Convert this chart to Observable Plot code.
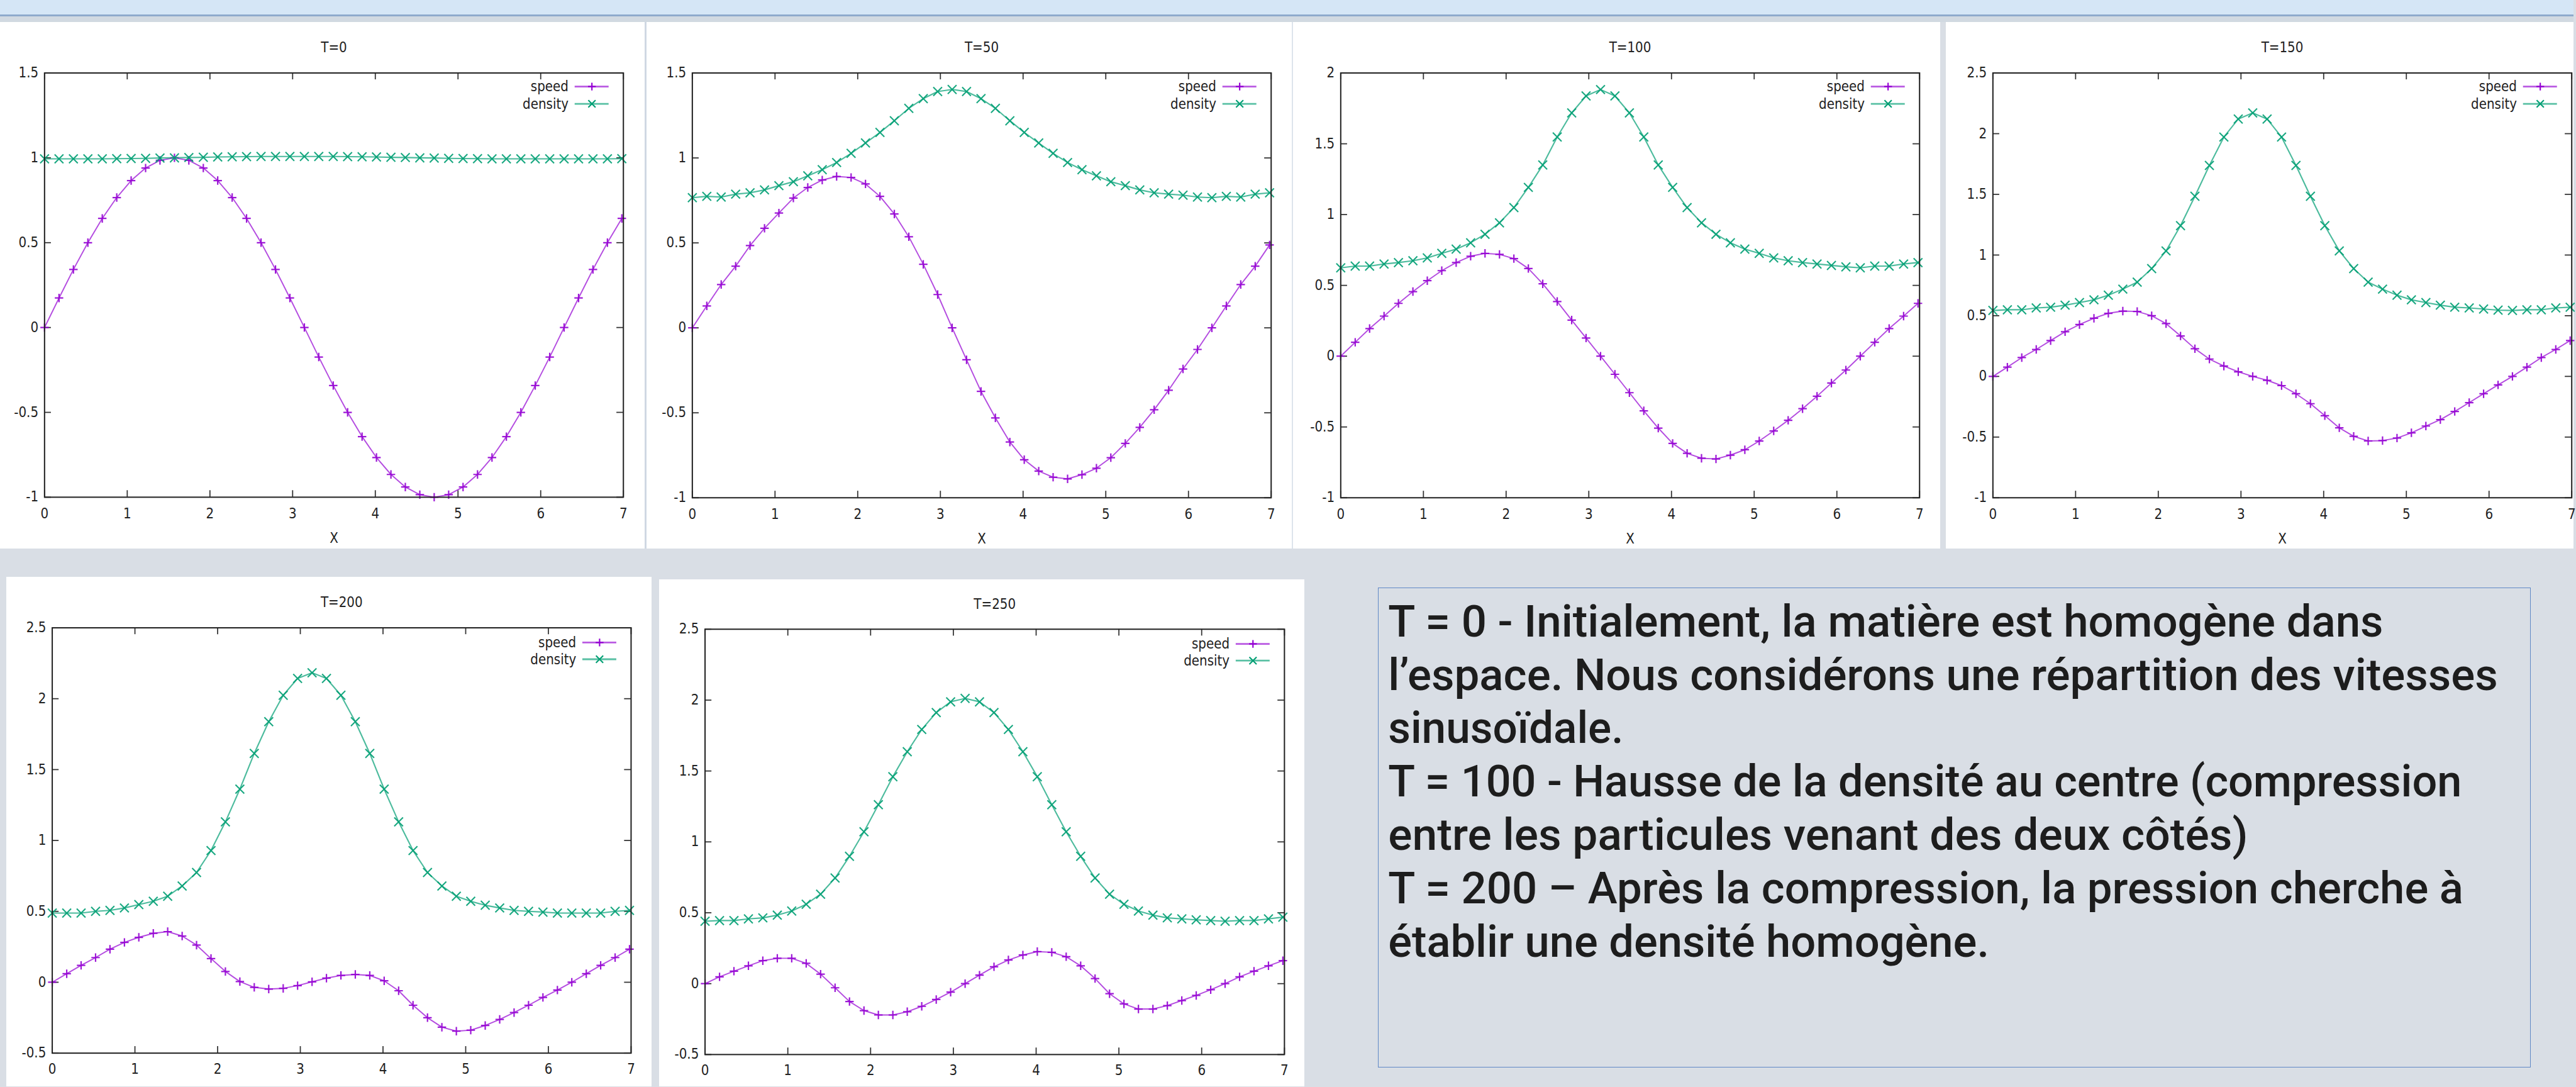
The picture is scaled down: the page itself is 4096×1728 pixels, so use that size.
<!DOCTYPE html>
<html><head><meta charset="utf-8">
<script src="https://cdn.jsdelivr.net/npm/d3@7"></script>
<script src="https://cdn.jsdelivr.net/npm/@observablehq/plot@0.6"></script>
<style>
html,body{margin:0;padding:0;background:#d9dee5;}
#page{position:relative;width:4096px;height:1728px;overflow:hidden;background:#d9dee5;}
.abs{position:absolute;}
</style></head><body><div id="page"></div>
<script>
// ---------------- data ----------------
const xGrid = [0, 0.175, 0.349, 0.524, 0.698, 0.873, 1.047, 1.222, 1.396, 1.571, 1.745, 1.920, 2.094, 2.269, 2.443, 2.618, 2.793, 2.967, 3.142, 3.316, 3.491, 3.665, 3.840, 4.014, 4.189, 4.363, 4.538, 4.712, 4.887, 5.061, 5.236, 5.411, 5.585, 5.760, 5.934, 6.109, 6.283, 6.458, 6.632, 6.807, 6.981];
const seriesNames = ["speed", "density"];
const titles = ["T=0", "T=50", "T=100", "T=150", "T=200", "T=250"];
const xTicks = [0, 1, 2, 3, 4, 5, 6, 7];
const xLabel = "X";
const yTicksA = [-1, -0.5, 0, 0.5, 1, 1.5];
const yTicksB = [-1, -0.5, 0, 0.5, 1, 1.5, 2];
const yTicksC = [-1, -0.5, 0, 0.5, 1, 1.5, 2, 2.5];
const yTicksD = [-0.5, 0, 0.5, 1, 1.5, 2, 2.5];

const speedT0 = [0, 0.174, 0.342, 0.5, 0.643, 0.766, 0.866, 0.94, 0.985, 1, 0.985, 0.94, 0.866, 0.766, 0.643, 0.5, 0.342, 0.174, 0, -0.174, -0.342, -0.5, -0.643, -0.766, -0.866, -0.94, -0.985, -1, -0.985, -0.94, -0.866, -0.766, -0.643, -0.5, -0.342, -0.174, 0, 0.174, 0.342, 0.5, 0.643];
const densityT0 = [0.994, 0.994, 0.994, 0.994, 0.994, 0.995, 0.996, 0.997, 0.999, 1.0, 1.002, 1.003, 1.005, 1.006, 1.007, 1.008, 1.008, 1.008, 1.008, 1.008, 1.008, 1.007, 1.006, 1.005, 1.003, 1.002, 1.0, 0.999, 0.997, 0.996, 0.995, 0.994, 0.994, 0.994, 0.994, 0.994, 0.994, 0.994, 0.994, 0.994, 0.995];
const speedT50 = [0, 0.129, 0.255, 0.363, 0.484, 0.586, 0.676, 0.764, 0.826, 0.870, 0.891, 0.885, 0.847, 0.774, 0.670, 0.536, 0.374, 0.196, 0, -0.188, -0.374, -0.530, -0.672, -0.776, -0.843, -0.879, -0.889, -0.864, -0.826, -0.764, -0.680, -0.586, -0.482, -0.367, -0.242, -0.127, 0, 0.129, 0.255, 0.363, 0.488];
const densityT50 = [0.766, 0.774, 0.770, 0.787, 0.795, 0.812, 0.837, 0.860, 0.895, 0.931, 0.973, 1.027, 1.088, 1.150, 1.219, 1.292, 1.349, 1.391, 1.403, 1.391, 1.349, 1.292, 1.219, 1.150, 1.088, 1.027, 0.973, 0.931, 0.895, 0.860, 0.837, 0.812, 0.795, 0.787, 0.781, 0.770, 0.766, 0.774, 0.770, 0.787, 0.795];
const speedT100 = [0, 0.098, 0.195, 0.283, 0.373, 0.456, 0.533, 0.604, 0.661, 0.706, 0.726, 0.719, 0.689, 0.619, 0.511, 0.386, 0.255, 0.128, 0, -0.128, -0.258, -0.386, -0.508, -0.616, -0.686, -0.721, -0.726, -0.699, -0.661, -0.599, -0.528, -0.453, -0.371, -0.283, -0.190, -0.098, 0, 0.098, 0.195, 0.283, 0.373];
const densityT100 = [0.624, 0.636, 0.636, 0.651, 0.661, 0.674, 0.694, 0.726, 0.756, 0.801, 0.861, 0.942, 1.049, 1.192, 1.350, 1.548, 1.718, 1.838, 1.883, 1.838, 1.718, 1.548, 1.350, 1.192, 1.049, 0.942, 0.861, 0.801, 0.756, 0.726, 0.694, 0.674, 0.661, 0.651, 0.641, 0.631, 0.624, 0.636, 0.636, 0.651, 0.661];
const speedT150 = [0, 0.076, 0.155, 0.222, 0.295, 0.368, 0.427, 0.479, 0.520, 0.538, 0.535, 0.500, 0.435, 0.333, 0.228, 0.143, 0.085, 0.038, 0, -0.032, -0.076, -0.143, -0.225, -0.324, -0.424, -0.494, -0.532, -0.529, -0.508, -0.465, -0.409, -0.356, -0.289, -0.216, -0.143, -0.070, 0, 0.076, 0.155, 0.222, 0.295];
const densityT150 = [0.543, 0.549, 0.549, 0.564, 0.570, 0.587, 0.608, 0.631, 0.669, 0.719, 0.777, 0.888, 1.034, 1.242, 1.484, 1.738, 1.972, 2.121, 2.171, 2.121, 1.972, 1.738, 1.484, 1.242, 1.034, 0.888, 0.777, 0.719, 0.669, 0.631, 0.608, 0.587, 0.570, 0.564, 0.555, 0.546, 0.543, 0.549, 0.549, 0.564, 0.570];
const speedT200 = [0, 0.060, 0.119, 0.174, 0.233, 0.281, 0.317, 0.345, 0.357, 0.326, 0.262, 0.167, 0.076, 0.005, -0.036, -0.048, -0.043, -0.024, 0.003, 0.029, 0.048, 0.055, 0.048, 0.010, -0.060, -0.162, -0.250, -0.317, -0.345, -0.338, -0.305, -0.262, -0.214, -0.162, -0.107, -0.055, 0, 0.060, 0.119, 0.174, 0.233];
const densityT200 = [0.488, 0.488, 0.488, 0.500, 0.507, 0.524, 0.548, 0.571, 0.607, 0.679, 0.774, 0.929, 1.131, 1.362, 1.614, 1.838, 2.024, 2.143, 2.183, 2.143, 2.024, 1.838, 1.614, 1.362, 1.131, 0.929, 0.774, 0.679, 0.607, 0.571, 0.543, 0.524, 0.507, 0.500, 0.495, 0.488, 0.488, 0.488, 0.488, 0.500, 0.507];
const speedT250 = [0, 0.048, 0.088, 0.126, 0.162, 0.179, 0.179, 0.143, 0.067, -0.029, -0.126, -0.190, -0.221, -0.221, -0.198, -0.160, -0.112, -0.060, 0, 0.060, 0.119, 0.167, 0.202, 0.226, 0.221, 0.190, 0.126, 0.036, -0.071, -0.143, -0.179, -0.179, -0.155, -0.119, -0.083, -0.043, 0, 0.048, 0.088, 0.126, 0.162];
const densityT250 = [0.440, 0.445, 0.445, 0.457, 0.464, 0.483, 0.512, 0.560, 0.631, 0.745, 0.898, 1.071, 1.262, 1.460, 1.636, 1.793, 1.912, 1.988, 2.012, 1.988, 1.912, 1.793, 1.636, 1.460, 1.262, 1.071, 0.898, 0.745, 0.631, 0.560, 0.512, 0.483, 0.464, 0.457, 0.450, 0.445, 0.440, 0.445, 0.445, 0.457, 0.469];

const noteLines = [
  "T = 0 - Initialement, la matière est homogène dans",
  "l’espace. Nous considérons une répartition des vitesses",
  "sinusoïdale.",
  "T = 100 - Hausse de la densité au centre (compression",
  "entre les particules venant des deux côtés)",
  "T = 200 – Après la compression, la pression cherche à",
  "établir une densité homogène."
];

// ---------------- layout / style (reference px, scaled by S) ----------------
const S = 0.885;
const SPEED_COLOR = "#9400d3";
const DENSITY_COLOR = "#009e73";
const PLOT_FONT = "'DejaVu Sans Condensed', 'Liberation Sans Narrow', 'DejaVu Sans', sans-serif";
const NOTE_FONT = "Roboto, 'Open Sans', sans-serif";

const page = document.getElementById("page");
function box(l, t, w, h, bg, extra) {
  const d = document.createElement("div");
  d.className = "abs";
  Object.assign(d.style, {left: l*S+"px", top: t*S+"px", width: w*S+"px", height: h*S+"px", background: bg}, extra || {});
  page.appendChild(d);
  return d;
}
// header band
box(0, 0, 4624, 26.5, "#d5e6f6");
box(0, 26.5, 4624, 2.5, "#8eaacc");
box(0, 29, 4624, 11, "#d1d9e1");
// top-row panel backgrounds
box(0, 40, 1158, 945, "#ffffff");
box(1158, 40, 4, 945, "#cfd8e3");
box(1162, 40, 1159, 945, "#ffffff");
box(2321, 40, 2.5, 945, "#dde4ec");
box(2323.5, 40, 1162.5, 945, "#ffffff");
box(3496, 40, 1128, 945, "#ffffff");
// bottom-row panel backgrounds
box(11, 1036, 1160, 915, "#ffffff");
box(1184, 1041, 1160, 910, "#ffffff");

const panels = [
  {title: titles[0], speed: speedT0,   density: densityT0,   yTicks: yTicksA, left: -4,   top: 40,   w: 1164, h: 945, ml: 84, mt: 91, pw: 1040, ph: 762, xlab: true},
  {title: titles[1], speed: speedT50,  density: densityT50,  yTicks: yTicksA, left: 1159, top: 40,   w: 1164, h: 945, ml: 84, mt: 91, pw: 1040, ph: 763, xlab: true},
  {title: titles[2], speed: speedT100, density: densityT100, yTicks: yTicksB, left: 2324, top: 40,   w: 1164, h: 945, ml: 84, mt: 91, pw: 1040, ph: 763, xlab: true},
  {title: titles[3], speed: speedT150, density: densityT150, yTicks: yTicksC, left: 3496, top: 40,   w: 1164, h: 945, ml: 84, mt: 91, pw: 1040, ph: 763, xlab: true},
  {title: titles[4], speed: speedT200, density: densityT200, yTicks: yTicksD, left: 11,   top: 1036, w: 1160, h: 945, ml: 82, mt: 91, pw: 1040, ph: 764, xlab: false},
  {title: titles[5], speed: speedT250, density: densityT250, yTicks: yTicksD, left: 1184, top: 1041, w: 1160, h: 945, ml: 82, mt: 89, pw: 1041, ph: 764, xlab: false}
];

const fmt = d => String(d);

function legendMark(rowY) {
  return (index, scales, values, dims) => {
    const g = d3.create("svg:g");
    const right = dims.width - dims.marginRight;
    const top = dims.marginTop;
    const cols = [SPEED_COLOR, DENSITY_COLOR];
    seriesNames.forEach((name, i) => {
      const cy = top + rowY[i]*S;
      g.append("text").attr("x", right - 98*S).attr("y", cy).attr("dy", "0.35em")
        .attr("text-anchor", "end").attr("fill", "#222").text(name);
      g.append("line").attr("x1", right - 87*S).attr("x2", right - 26*S)
        .attr("y1", cy).attr("y2", cy).attr("stroke", cols[i]).attr("stroke-opacity", 0.65)
        .attr("stroke-width", 3.2*S);
      const mx = right - 56*S;
      const a = i === 0 ? 7*S : 6.5*S;
      if (i === 0) {
        g.append("path").attr("d", `M${mx-a},${cy}H${mx+a}M${mx},${cy-a}V${cy+a}`)
          .attr("stroke", cols[i]).attr("stroke-width", 2.4*S);
      } else {
        g.append("path").attr("d", `M${mx-a},${cy-a}L${mx+a},${cy+a}M${mx-a},${cy+a}L${mx+a},${cy-a}`)
          .attr("stroke", cols[i]).attr("stroke-width", 2.4*S);
      }
    });
    return g.node();
  };
}

panels.forEach((p, k) => {
  const data = xGrid.map((x, i) => ({x, speed: p.speed[i], density: p.density[i]}));
  const W = p.w*S, H = p.h*S;
  const ml = p.ml*S, mt = p.mt*S, pw = p.pw*S, ph = p.ph*S;
  const mr = W - ml - pw, mb = H - mt - ph;
  const tl = 12*S;
  const tickStyle = {stroke: "#333", strokeWidth: 2*S};
  const marks = [
    Plot.tickX(xTicks, {x: d => d, insetTop: ph - tl, ...tickStyle}),
    Plot.tickX(xTicks, {x: d => d, insetBottom: ph - tl, ...tickStyle}),
    Plot.tickY(p.yTicks, {y: d => d, insetRight: pw - tl, ...tickStyle}),
    Plot.tickY(p.yTicks, {y: d => d, insetLeft: pw - tl, ...tickStyle}),
    Plot.line(data, {x: "x", y: "speed", stroke: SPEED_COLOR, strokeWidth: 2.2*S, strokeOpacity: 0.7}),
    Plot.dot(data, {x: "x", y: "speed", symbol: "plus", r: 4.4, stroke: SPEED_COLOR, strokeWidth: 2.5*S, strokeOpacity: 0.9}),
    Plot.line(data, {x: "x", y: "density", stroke: DENSITY_COLOR, strokeWidth: 2.4*S, strokeOpacity: 0.7}),
    Plot.dot(data, {x: "x", y: "density", symbol: "times", r: 6.4, stroke: DENSITY_COLOR, strokeWidth: 2.4*S, strokeOpacity: 0.9}),
    Plot.frame({stroke: "#222", strokeWidth: 2.3*S}),
    Plot.text(xTicks, {x: d => d, frameAnchor: "bottom", dy: (p.xlab ? 30 : 29)*S, lineAnchor: "middle", text: fmt, fill: "#222"}),
    Plot.text(p.yTicks, {y: d => d, frameAnchor: "left", dx: -11*S, textAnchor: "end", lineAnchor: "middle", text: fmt, fill: "#222"}),
    Plot.text([p.title], {frameAnchor: "top", dy: -45*S, lineAnchor: "middle", text: d => d, fill: "#222"}),
    legendMark(p.xlab ? [25, 56] : [27, 57])
  ];
  if (p.xlab) marks.push(Plot.text([xLabel], {frameAnchor: "bottom", dy: 74*S, lineAnchor: "middle", text: d => d, fill: "#222"}));
  const chart = Plot.plot({
    width: W, height: H,
    marginLeft: ml, marginRight: mr, marginTop: mt, marginBottom: mb,
    x: {domain: [0, 7], axis: null},
    y: {domain: d3.extent(p.yTicks), axis: null},
    style: {fontFamily: PLOT_FONT, fontSize: (25*S)+"px", background: "transparent", overflow: "visible", color: "#222"},
    marks
  });
  chart.style.position = "absolute";
  chart.style.left = (p.left*S)+"px";
  chart.style.top = (p.top*S)+"px";
  page.appendChild(chart);
});

// ---------------- note box ----------------
const nb = {l: 2476, t: 1055, w: 2071, h: 863};
box(nb.l, nb.t, nb.w, nb.h, "transparent", {boxSizing: "border-box", border: (1.6*S)+"px solid #5f88c6"});
const noteWidths = [1788, 1994, 423, 1929, 1545, 1932, 1080];
const noteX = 2494, noteY0 = 1143, noteDY = 96;
const svg = d3.create("svg").attr("width", 4096).attr("height", 1728)
  .style("position", "absolute").style("left", "0px").style("top", "0px");
svg.selectAll("text").data(noteLines).join("text")
  .attr("x", noteX*S).attr("y", (d, i) => (noteY0 + i*noteDY)*S)
  .attr("textLength", (d, i) => noteWidths[i]*S).attr("lengthAdjust", "spacingAndGlyphs")
  .attr("font-family", NOTE_FONT).attr("font-size", 71).attr("font-weight", 500)
  .attr("fill", "#1d1d1d").text(d => d);
page.appendChild(svg.node());
</script>
</body></html>
